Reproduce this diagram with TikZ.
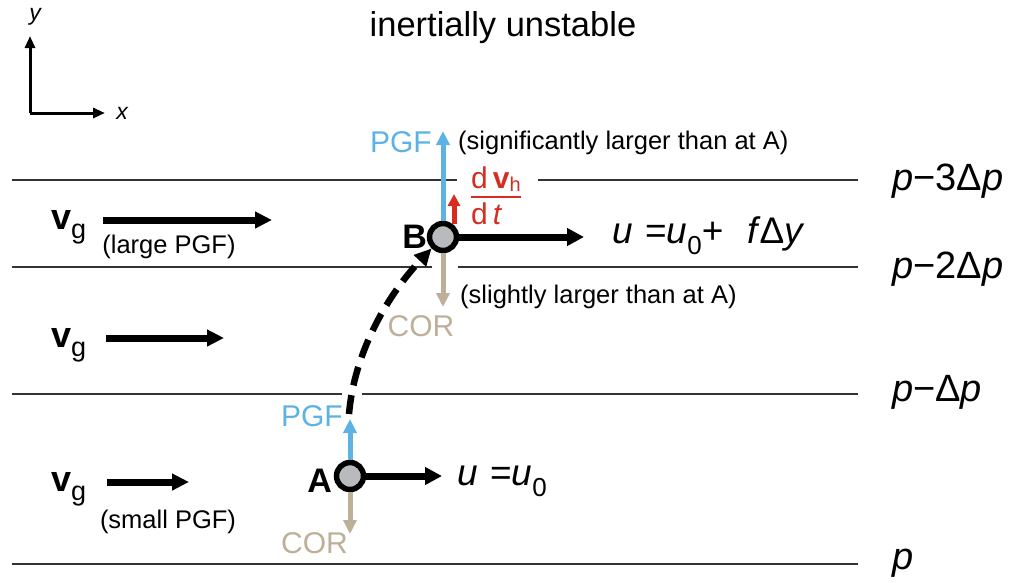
\documentclass[tikz,border=0pt]{standalone}
\usepackage{fontspec}
\setmainfont{Liberation Sans}
\usetikzlibrary{arrows.meta}
\definecolor{pgfblue}{RGB}{93,178,228}
\definecolor{dvred}{RGB}{214,45,35}
\definecolor{cortan}{RGB}{190,176,152}
\definecolor{dotgray}{RGB}{185,186,190}
\newcommand{\fs}[1]{\fontsize{#1}{#1}\selectfont}
\begin{document}
\begin{tikzpicture}[x=1pt,y=-1pt,
  level/.style={line width=1.2pt, black!80},
  parcel/.style={circle, draw=black, fill=dotgray, line width=5.5pt, minimum size=27pt, inner sep=0pt},
  blackarr/.style={line width=7pt, -{Triangle[length=17pt,width=17pt]}},
  windarr/.style={line width=7pt, -{Triangle[length=17pt,width=16pt]}},
  pgfarr/.style={pgfblue, line width=5pt, -{Triangle[length=14pt,width=13pt]}},
  corarr/.style={cortan, line width=5pt, -{Triangle[length=14pt,width=13pt]}},
  redarr/.style={dvred, line width=5pt, -{Triangle[length=12pt,width=12pt]}},
  axarr/.style={line width=3pt, -{Triangle[length=12pt,width=10pt]}},
  txt/.style={inner sep=0pt, font=\fs{25.5}},
  big/.style={inner sep=0pt, font=\fs{38}},
]
\useasboundingbox (0,0) rectangle (1017,582);

% title
\node[inner sep=0pt, font=\fs{34.5}] (title) at (503,28) {inertially unstable};

% axes
\coordinate (O) at (30,113);
\coordinate (ytip) at (30,36);
\coordinate (xtip) at (105,113);
\draw[axarr] (O) -- (ytip);
\draw[axarr] (O) -- (xtip);
\node[inner sep=0pt, font=\fs{23}\itshape] (ylab) at (35,17) {y};
\node[inner sep=0pt, font=\fs{23}\itshape] (xlab) at (122,113) {x};

% pressure levels
\draw[level] (12,180) -- (457,180);
\draw[level] (538,180) -- (858,180);
\draw[level] (12,267) -- (432,267);
\draw[level] (458,267) -- (858,267);
\draw[level] (12,394) -- (342,394);
\draw[level] (362,394) -- (858,394);
\draw[level] (12,564) -- (858,564);

\node[big, anchor=west] (p3) at (892,181) {\itshape p\upshape −3Δ\itshape p};
\node[big, anchor=west] (p2) at (892,269) {\itshape p\upshape −2Δ\itshape p};
\node[big, anchor=west] (p1) at (892,392) {\itshape p\upshape −Δ\itshape p};
\node[big, anchor=west] (p0) at (892,563) {\itshape p};

% geostrophic winds
\node[inner sep=0pt, anchor=west] (vg3) at (51,227) {\fs{36}\textbf{v}\raisebox{-9pt}{\fs{27}g}};
\coordinate (w3s) at (103,220); \coordinate (w3e) at (272,220);
\draw[windarr] (w3s) -- (w3e);
\node[txt] (large) at (169,247) {(large PGF)};

\node[inner sep=0pt, anchor=west] (vg2) at (51,345) {\fs{36}\textbf{v}\raisebox{-9pt}{\fs{27}g}};
\coordinate (w2s) at (106,338); \coordinate (w2e) at (224,338);
\draw[windarr] (w2s) -- (w2e);

\node[inner sep=0pt, anchor=west] (vg1) at (51,489) {\fs{36}\textbf{v}\raisebox{-9pt}{\fs{27}g}};
\coordinate (w1s) at (107,482); \coordinate (w1e) at (189,482);
\draw[windarr] (w1s) -- (w1e);
\node[txt] (small) at (168,522) {(small PGF)};

% parcel A
\node[parcel] (A) at (350,476) {};
\node[inner sep=0pt, font=\fs{34}\bfseries, anchor=east] (Alab) at (332,481) {A};
\coordinate (Apgf) at (350,419);
\coordinate (Acor) at (350,534);
\coordinate (Au) at (442,476);
\draw[pgfarr] (A.north) -- (Apgf);
\draw[corarr] (A.south) -- (Acor);
\draw[blackarr] (A.east) -- (Au);
\node[txt, pgfblue, font=\fs{30}, anchor=east] (ApgfL) at (343,416) {PGF};
\node[txt, cortan, font=\fs{30}, anchor=east] (AcorL) at (348,543) {COR};
\node[inner sep=0pt, font=\fs{37}, anchor=west] (uA) at (457,481) {\itshape u\upshape\,\,=\itshape u\upshape\raisebox{-11pt}{\fs{26}0}};

% parcel B
\node[parcel] (B) at (443,237) {};
\node[inner sep=0pt, font=\fs{34}\bfseries, anchor=east] (Blab) at (427,237) {B};
\coordinate (Bpgf) at (443,131);
\coordinate (Bcor) at (443,307);
\coordinate (Bu) at (584,237);
\coordinate (Bred0) at (454,224);
\coordinate (Bred) at (454,194);
\draw[pgfarr] (B.north) -- (Bpgf);
\draw[corarr] (B.south) -- (Bcor);
\draw[redarr] (Bred0) -- (Bred);
\draw[blackarr] (B.east) -- (Bu);
\node[txt, pgfblue, font=\fs{30}, anchor=east] (BpgfL) at (432,142) {PGF};
\node[txt, anchor=west] (sig) at (458,143) {(significantly larger than at A)};
\node[txt, cortan, font=\fs{30}] (BcorL) at (421,326) {COR};
\node[txt, anchor=west] (sli) at (460,297) {(slightly larger than at A)};
\node[inner sep=0pt, font=\fs{37}, anchor=west] (uB) at (612,236) {\itshape u\upshape\,\,=\itshape u\upshape\raisebox{-11pt}{\fs{26}0}+\hspace{24pt}\itshape f\upshape\hspace{2pt}Δ\itshape y};

% dv/dt fraction
\node[inner sep=0pt, dvred, font=\fs{30}, anchor=west] (num) at (471,179) {d\,\textbf{v}\raisebox{-3pt}{\fs{20}h}};
\node[inner sep=0pt, dvred, font=\fs{30}, anchor=west] (den) at (471,214) {d\,\textit{t}};
\draw[dvred, line width=2pt] (num.south west) ++(0,5) coordinate (barL) -- (barL -| num.south east);

% trajectory A -> B
\coordinate (trajS) at (349,414);
\draw[line width=6.5pt, dash pattern=on 19pt off 10pt, -{Triangle[length=17pt,width=16pt]}]
  (trajS) .. controls (354,355) and (385,298) .. (B.south west);
\end{tikzpicture}
\end{document}
